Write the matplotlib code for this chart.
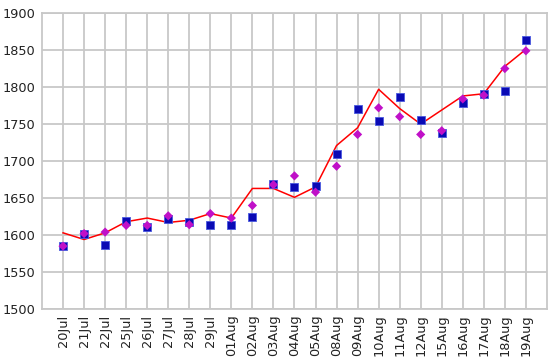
import matplotlib
matplotlib.use("Agg")
import matplotlib.pyplot as plt

dates = ["20Jul", "21Jul", "22Jul", "25Jul", "26Jul", "27Jul", "28Jul", "29Jul",
         "01Aug", "02Aug", "03Aug", "04Aug", "05Aug", "08Aug", "09Aug", "10Aug",
         "11Aug", "12Aug", "15Aug", "16Aug", "17Aug", "18Aug", "19Aug"]

# red line
line_vals = [1603, 1594, 1603, 1618, 1623, 1617, 1620, 1629,
             1623, 1663, 1663, 1651, 1665, 1721, 1745, 1797,
             1771, 1750, 1769, 1788, 1791, 1828, 1851]

# blue squares
square_vals = [1585, 1601, 1587, 1619, 1611, 1622, 1618, 1613,
               1613, 1625, 1669, 1665, 1666, 1710, 1770, 1754,
               1786, 1756, 1738, 1779, 1791, 1795, 1863]

# magenta diamonds
diamond_vals = [1585, 1602, 1604, 1613, 1613, 1626, 1614, 1629,
                1623, 1640, 1668, 1680, 1658, 1693, 1736, 1772,
                1760, 1736, 1741, 1784, 1789, 1825, 1849]

x = list(range(len(dates)))

fig = plt.figure(figsize=(5.5, 3.64), dpi=100)
ax = fig.add_axes([0.0764, 0.151, 0.918, 0.813])

ax.plot(x, line_vals, color="red", linewidth=1.1, zorder=3)
ax.scatter(x, square_vals, marker="s", s=38, color="#0a0ab4",
           edgecolors="#4a5ae0", linewidths=0.6, zorder=4)
ax.scatter(x, diamond_vals, marker="D", s=22, color="#c010c8",
           edgecolors="none", zorder=5)

ax.set_xlim(-1, len(dates))
ax.set_ylim(1500, 1900)
ax.set_yticks(range(1500, 1901, 50))
ax.set_xticks(x)
ax.set_xticklabels(dates, rotation=90)

ax.grid(True, color="#c8c8c8", linewidth=1.3)
ax.set_axisbelow(True)
for s in ax.spines.values():
    s.set_color("#c8c8c8")
    s.set_linewidth(1.3)
ax.tick_params(length=0, labelsize=9.3, colors="#222222")
ax.tick_params(axis="y", pad=5)
ax.tick_params(axis="x", pad=4)

fig.savefig("out.png", dpi=100)
